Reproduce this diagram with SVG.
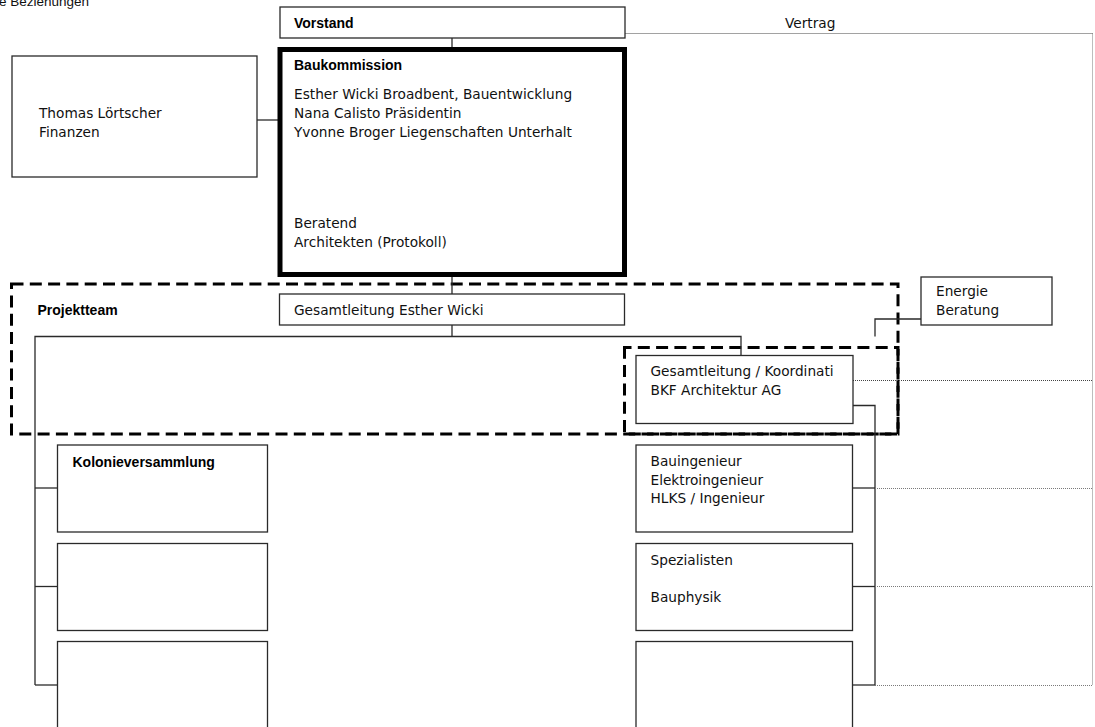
<svg xmlns="http://www.w3.org/2000/svg" width="1095" height="727" viewBox="0 0 1095 727">
  <style>
    .box { fill: #fff; stroke: #2a2a2a; stroke-width: 1.3; }
    .thick { fill: #fff; stroke: #000; stroke-width: 5; }
    .team { fill: none; stroke: #000; stroke-width: 3; stroke-dasharray: 12 6.3; }
    .line { fill: none; stroke: #2a2a2a; stroke-width: 1.3; }
    .dot { fill: none; stroke: #7a7a7a; stroke-width: 1; stroke-dasharray: 1 1; }
    .dotdark { fill: none; stroke: #444; stroke-width: 1; stroke-dasharray: 1 1; }
    .t { font-family: "DejaVu Sans", Verdana, sans-serif; font-size: 13.7px; fill: #111; }
    .b { font-family: "Liberation Sans", Arial, sans-serif; font-size: 14px; font-weight: bold; fill: #000; }
    .h { font-family: "Liberation Sans", Arial, sans-serif; font-size: 13.5px; fill: #111; }
  </style>

  <rect width="1095" height="727" fill="#fff"/>

  <text class="h" x="-1" y="5.5">e Beziehungen</text>

  <!-- group frames -->
  <g id="projektteam">
    <rect class="team" x="11.5" y="284" width="886.5" height="150"/>
    <text class="b" x="37.5" y="315">Projektteam</text>
  </g>
  <g id="planerteam">
    <rect class="team" x="624.5" y="347.5" width="273.5" height="86.5" stroke-dashoffset="5"/>
  </g>

  <!-- connectors -->
  <g id="connectors">
    <line class="line" x1="452" y1="38" x2="452" y2="48"/>
    <line class="line" x1="257" y1="120" x2="278" y2="120"/>
    <line class="line" x1="452" y1="277" x2="452" y2="294"/>
    <line class="line" x1="452" y1="325" x2="452" y2="336.5"/>
    <polyline class="line" points="35,685 35,336.5 741,336.5 741,355"/>
    <line class="line" x1="35" y1="488" x2="57" y2="488"/>
    <line class="line" x1="35" y1="586.5" x2="57" y2="586.5"/>
    <line class="line" x1="35" y1="685" x2="57" y2="685"/>
    <polyline class="line" points="921,319 875,319 875,336.5"/>
    <polyline class="line" points="853,405.5 875,405.5 875,685"/>
    <line class="line" x1="853" y1="488" x2="875" y2="488"/>
    <line class="line" x1="853" y1="586.5" x2="875" y2="586.5"/>
    <line class="line" x1="853" y1="685" x2="875" y2="685"/>
    <!-- contract relations -->
    <polyline class="dotdark" points="625.5,33.5 1092.5,33.5"/>
    <polyline class="dot" points="1092.5,33.5 1092.5,685"/>
    <line class="dotdark" x1="853" y1="380.5" x2="1092.5" y2="380.5"/>
    <line class="dot" x1="875" y1="488.5" x2="1092.5" y2="488.5"/>
    <line class="dot" x1="875" y1="586.5" x2="1092.5" y2="586.5"/>
    <line class="dot" x1="875" y1="685.5" x2="1092.5" y2="685.5"/>
    <text class="t" x="785" y="28">Vertrag</text>
  </g>

  <!-- nodes -->
  <g id="vorstand">
    <rect class="box" x="280" y="7" width="345" height="31"/>
    <text class="b" x="294" y="28">Vorstand</text>
  </g>

  <g id="finanzen">
    <rect class="box" x="12" y="56" width="245" height="121"/>
    <text class="t" x="39" y="118">Thomas Lörtscher</text>
    <text class="t" x="39" y="136.5">Finanzen</text>
  </g>

  <g id="baukommission">
    <rect class="thick" x="280" y="49.5" width="344.5" height="225"/>
    <text class="b" x="294" y="70">Baukommission</text>
    <text class="t" x="294" y="99">Esther Wicki Broadbent, Bauentwicklung</text>
    <text class="t" x="294" y="117.5">Nana Calisto Präsidentin</text>
    <text class="t" x="294" y="136.5">Yvonne Broger Liegenschaften Unterhalt</text>
    <text class="t" x="294" y="228">Beratend</text>
    <text class="t" x="294" y="247">Architekten (Protokoll)</text>
  </g>

  <g id="gesamtleitung">
    <rect class="box" x="279.5" y="294" width="345" height="31"/>
    <text class="t" x="294" y="315">Gesamtleitung Esther Wicki</text>
  </g>

  <g id="energie">
    <rect class="box" x="921" y="277" width="131" height="48"/>
    <text class="t" x="936" y="296">Energie</text>
    <text class="t" x="936" y="315">Beratung</text>
  </g>

  <g id="koordination">
    <rect class="box" x="636" y="355.5" width="217" height="68"/>
    <text class="t" x="650.5" y="376">Gesamtleitung / Koordinati</text>
    <text class="t" x="650.5" y="395">BKF Architektur AG</text>
  </g>

  <g id="kolonieversammlung">
    <rect class="box" x="57.5" y="445" width="210" height="87"/>
    <text class="b" x="72.5" y="467">Kolonieversammlung</text>
  </g>
  <g id="links-2">
    <rect class="box" x="57.5" y="543.5" width="210" height="87"/>
  </g>
  <g id="links-3">
    <rect class="box" x="57.5" y="641.5" width="210" height="100"/>
  </g>

  <g id="ingenieure">
    <rect class="box" x="636" y="445" width="216.5" height="87"/>
    <text class="t" x="650.5" y="466">Bauingenieur</text>
    <text class="t" x="650.5" y="484.5">Elektroingenieur</text>
    <text class="t" x="650.5" y="503">HLKS / Ingenieur</text>
  </g>
  <g id="spezialisten">
    <rect class="box" x="636" y="543.5" width="216.5" height="87"/>
    <text class="t" x="650.5" y="564.5">Spezialisten</text>
    <text class="t" x="650.5" y="601.5">Bauphysik</text>
  </g>
  <g id="rechts-3">
    <rect class="box" x="636" y="641.5" width="216.5" height="100"/>
  </g>
</svg>
